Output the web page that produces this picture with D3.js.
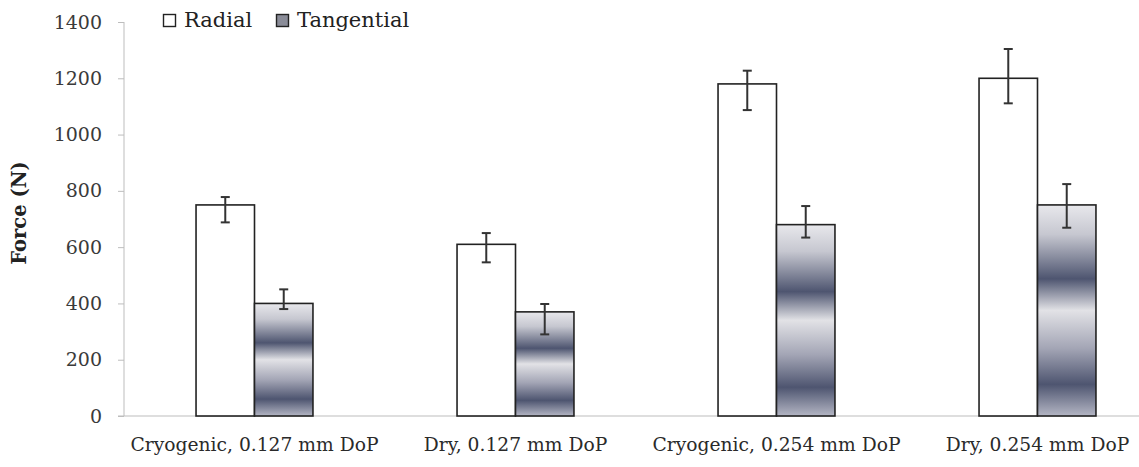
<!DOCTYPE html>
<html>
<head>
<meta charset="utf-8">
<script src="https://cdn.jsdelivr.net/npm/d3@7"></script>
<style>
  body { margin: 0; background: #fff; }
  svg { display: block; font-family: "DejaVu Serif", serif; }
</style>
</head>
<body>
<svg id="chart" width="1139" height="467"></svg>
<script>
'use strict';

var categories = ['Cryogenic, 0.127 mm DoP', 'Dry, 0.127 mm DoP', 'Cryogenic, 0.254 mm DoP', 'Dry, 0.254 mm DoP'];
var seriesNames = ['Radial', 'Tangential'];
var radial = [750, 610, 1180, 1200];
var radialErrUp = [28, 40, 47, 104];
var radialErrDown = [62, 64, 93, 89];
var tangential = [400, 370, 680, 750];
var tangentialErrUp = [50, 28, 66, 74];
var tangentialErrDown = [20, 80, 46, 81];
var yTicks = [0, 200, 400, 600, 800, 1000, 1200, 1400];

var rows = categories.map(function (c, i) {
  return [
    { cat: c, key: 'Radial', value: radial[i], up: radialErrUp[i], down: radialErrDown[i] },
    { cat: c, key: 'Tangential', value: tangential[i], up: tangentialErrUp[i], down: tangentialErrDown[i] }
  ];
});

var svg = d3.select('#chart');
var plotLeft = 124, plotTop = 22, plotBottom = 416;

var x0 = d3.scaleBand().domain(categories).range([plotLeft, plotLeft + 4 * 261]);
var bw = x0.bandwidth();
var x1 = d3.scaleBand().domain(seriesNames).range([bw * 0.276, bw * 0.724]);
var y = d3.scaleLinear().domain([0, 1400]).range([plotBottom, plotTop]);

// gradient for tangential bars
var defs = svg.append('defs');
var grad = defs.append('linearGradient').attr('id', 'tanGrad')
  .attr('x1', 0).attr('y1', 0).attr('x2', 0).attr('y2', 1);
[[0, '#e8e8ec'], [0.14, '#c6c7d0'], [0.35, '#4e5570'], [0.5, '#e2e2e6'],
 [0.68, '#a3a5b5'], [0.85, '#4e5570'], [1, '#b4b6c4']].forEach(function (s) {
  grad.append('stop').attr('offset', s[0]).attr('stop-color', s[1]);
});

// y axis
var yAxis = svg.append('g').attr('transform', 'translate(' + plotLeft + ',0)')
  .call(d3.axisLeft(y).tickValues(yTicks).tickFormat(d3.format('d')).tickSize(6).tickPadding(16));
yAxis.select('.domain').attr('stroke', '#bdbdbd').attr('d', 'M0,' + plotTop + 'V' + plotBottom);
yAxis.selectAll('.tick line').attr('stroke', '#bdbdbd');
yAxis.selectAll('.tick text').attr('fill', '#3a3a3a').style('font-size', '19px')
  .style('font-family', '"DejaVu Serif", serif');

// baseline
svg.append('line').attr('x1', plotLeft - 6).attr('x2', 1139).attr('y1', y(0)).attr('y2', y(0))
  .attr('stroke', '#bdbdbd').attr('stroke-width', 1);

// x labels
svg.append('g').selectAll('text').data(categories).enter().append('text')
  .attr('x', function (d) { return x0(d) + bw / 2; })
  .attr('y', 451)
  .attr('text-anchor', 'middle')
  .attr('fill', '#2a2a2a')
  .style('font-size', '18.7px')
  .text(function (d) { return d; });

// bars
var groups = svg.append('g').selectAll('g').data(rows).enter().append('g')
  .attr('transform', function (d) { return 'translate(' + x0(d[0].cat) + ',0)'; });

groups.selectAll('rect').data(function (d) { return d; }).enter().append('rect')
  .attr('x', function (d) { return x1(d.key); })
  .attr('y', function (d) { return y(d.value); })
  .attr('width', x1.bandwidth())
  .attr('height', function (d) { return y(0) - y(d.value); })
  .attr('fill', function (d) { return d.key === 'Radial' ? '#fff' : 'url(#tanGrad)'; })
  .attr('stroke', '#222')
  .attr('stroke-width', 1.6);

// error bars
var err = groups.selectAll('g.err').data(function (d) { return d; }).enter().append('g')
  .attr('class', 'err')
  .attr('stroke', '#333').attr('stroke-width', 2);
err.append('line')
  .attr('x1', function (d) { return x1(d.key) + x1.bandwidth() / 2; })
  .attr('x2', function (d) { return x1(d.key) + x1.bandwidth() / 2; })
  .attr('y1', function (d) { return y(d.value + d.up); })
  .attr('y2', function (d) { return y(d.value - d.down); });
[['up', 1], ['down', -1]].forEach(function (p) {
  err.append('line')
    .attr('x1', function (d) { return x1(d.key) + x1.bandwidth() / 2 - 4.5; })
    .attr('x2', function (d) { return x1(d.key) + x1.bandwidth() / 2 + 4.5; })
    .attr('y1', function (d) { return y(d.value + p[1] * d[p[0]]); })
    .attr('y2', function (d) { return y(d.value + p[1] * d[p[0]]); });
});

// y title
svg.append('text')
  .attr('transform', 'translate(26,' + ((plotTop + plotBottom) / 2 - 6) + ') rotate(-90)')
  .attr('text-anchor', 'middle')
  .attr('fill', '#222')
  .style('font-size', '19.5px')
  .style('font-weight', 'bold')
  .text('Force (N)');

// legend
var legend = svg.append('g');
var legendX = [163, 276];
seriesNames.forEach(function (name, i) {
  var g = legend.append('g').attr('transform', 'translate(' + legendX[i] + ',14)');
  g.append('rect').attr('x', 0.5).attr('y', 0.5).attr('width', 12).attr('height', 12)
    .attr('fill', i === 0 ? '#fff' : '#8a8c98')
    .attr('stroke', '#222').attr('stroke-width', 1.4);
  g.append('text').attr('x', 21).attr('y', 13)
    .attr('fill', '#222').style('font-size', '21px')
    .text(name);
});
</script>
</body>
</html>
